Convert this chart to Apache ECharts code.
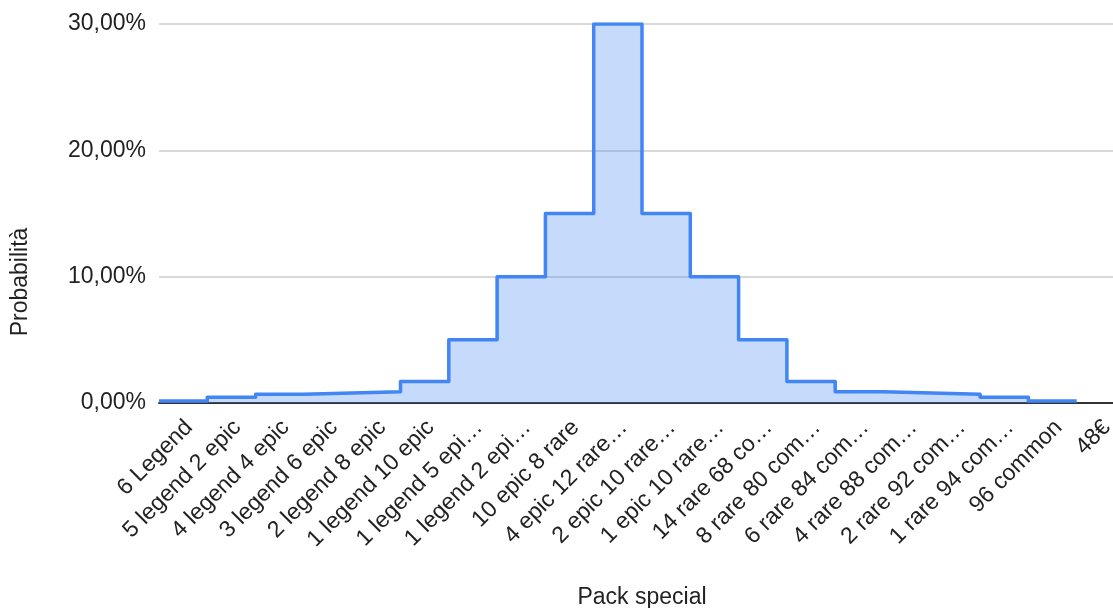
<!DOCTYPE html>
<html>
<head>
<meta charset="utf-8">
<script src="https://cdn.jsdelivr.net/npm/echarts@6/dist/echarts.min.js"></script>
<style>
html,body{margin:0;padding:0;background:#fff;}
#chart{width:1113px;height:608px;}
</style>
</head>
<body>
<div id="chart"></div>
<script>
// Categories (x-axis tick labels, as displayed)
const categories = [
  "6 Legend", "5 legend 2 epic", "4 legend 4 epic", "3 legend 6 epic",
  "2 legend 8 epic", "1 legend 10 epic", "1 legend 5 epi…", "1 legend 2 epi…",
  "10 epic 8 rare", "4 epic 12 rare…", "2 epic 10 rare…", "1 epic 10 rare…",
  "14 rare 68 co…", "8 rare 80 com…", "6 rare 84 com…", "4 rare 88 com…",
  "2 rare 92 com…", "1 rare 94 com…", "96 common", "48€"
];
// Probability (%) per category
const probabilities = [
  0.15, 0.45, 0.7, 0.8, 0.9, 1.7, 5, 10, 15, 30,
  15, 10, 5, 1.7, 0.9, 0.8, 0.7, 0.45, 0.15, null
];
// Y-axis ticks
const yTicks = [0, 10, 20, 30];
const xTitle = "Pack special";
const yTitle = "Probabilità";

// Build step data: each category occupies one band [i, i+1]
const stepData = [];
let lastIdx = -1;
probabilities.forEach((v, i) => {
  if (v !== null) { stepData.push([i, v]); lastIdx = i; }
});
stepData.push([lastIdx + 1, probabilities[lastIdx]]);

const FONT = '"Liberation Sans", Arial, sans-serif';
const chart = echarts.init(document.getElementById('chart'), null, {renderer: 'canvas'});
chart.setOption({
  backgroundColor: '#ffffff',
  animation: false,
  textStyle: {fontFamily: FONT},
  grid: [
    {left: 159, top: 24, width: 966, height: 379, outerBoundsMode: 'none', containLabel: false},
    {left: 165, top: 24, width: 966, height: 379, outerBoundsMode: 'none', containLabel: false}
  ],
  xAxis: [
    {
      type: 'value', gridIndex: 0, min: 0, max: categories.length,
      axisLine: {show: true, onZero: false, lineStyle: {color: '#333333', width: 2}},
      axisTick: {show: false}, axisLabel: {show: false}, splitLine: {show: false},
      name: xTitle, nameLocation: 'middle', nameGap: 183,
      nameTextStyle: {fontFamily: FONT, fontSize: 23, color: '#222222'}
    },
    {
      type: 'category', gridIndex: 1, data: categories, boundaryGap: true,
      axisLine: {show: false}, axisTick: {show: false}, splitLine: {show: false},
      axisLabel: {
        interval: 0, rotate: 45, margin: 21,
        fontFamily: FONT, fontSize: 23, color: '#222222'
      }
    }
  ],
  yAxis: [
    {
      type: 'value', gridIndex: 0, min: yTicks[0], max: yTicks[yTicks.length - 1], interval: 10,
      axisLine: {show: false}, axisTick: {show: false},
      splitLine: {show: true, lineStyle: {color: '#cccccc', width: 1.5}},
      axisLabel: {
        margin: 13, fontFamily: FONT, fontSize: 23, color: '#222222',
        formatter: v => v.toFixed(2).replace('.', ',') + '%'
      },
      name: yTitle, nameLocation: 'middle', nameGap: 127,
      nameTextStyle: {fontFamily: FONT, fontSize: 23, color: '#222222', padding: [0, 137, 0, 0]}
    },
    {type: 'value', gridIndex: 1, show: false, min: 0, max: 30}
  ],
  series: [{
    type: 'line',
    xAxisIndex: 0, yAxisIndex: 0,
    step: 'end',
    data: stepData,
    showSymbol: false,
    lineStyle: {color: '#4285F4', width: 3.5, join: 'round'},
    areaStyle: {color: 'rgba(66,133,244,0.3)', opacity: 1, origin: 'start'},
    z: 3
  }]
});
</script>
</body>
</html>
